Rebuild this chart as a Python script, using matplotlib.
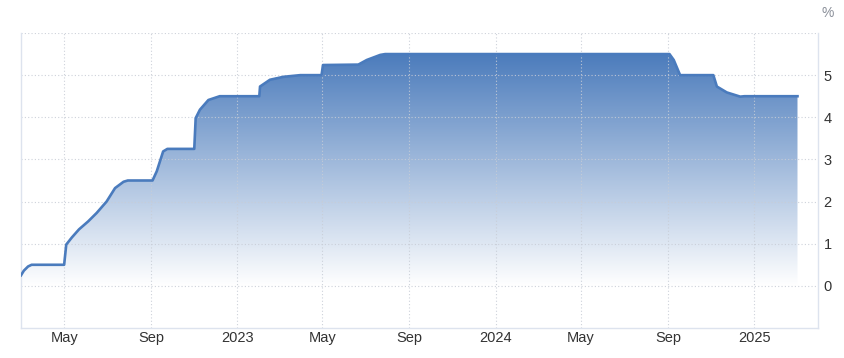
import matplotlib
matplotlib.use("Agg")
import matplotlib.pyplot as plt
import matplotlib.dates as mdates
import numpy as np
import pandas as pd
from matplotlib.patches import Polygon

dates = ["2022-03-01", "2022-03-05", "2022-03-11", "2022-03-16", "2022-05-01",
         "2022-05-04", "2022-05-12", "2022-05-22", "2022-06-04", "2022-06-16",
         "2022-06-30", "2022-07-12", "2022-07-24", "2022-07-30", "2022-09-03",
         "2022-09-09", "2022-09-18", "2022-09-24", "2022-11-01", "2022-11-03",
         "2022-11-09", "2022-11-21", "2022-12-07", "2023-02-01", "2023-02-02",
         "2023-02-16", "2023-03-07", "2023-03-31", "2023-04-30", "2023-05-02",
         "2023-06-21", "2023-07-03", "2023-07-22", "2023-07-29", "2024-09-03",
         "2024-09-09", "2024-09-18", "2024-11-04", "2024-11-09", "2024-11-23",
         "2024-12-12", "2024-12-18", "2025-03-03"]
values = [0.25, 0.36, 0.46, 0.50, 0.50,
          0.98, 1.15, 1.34, 1.53, 1.73,
          2.00, 2.32, 2.47, 2.50, 2.50,
          2.72, 3.19, 3.25, 3.25, 3.98,
          4.18, 4.41, 4.50, 4.50, 4.73,
          4.89, 4.96, 5.00, 5.00, 5.24,
          5.25, 5.36, 5.48, 5.50, 5.50,
          5.36, 5.00, 5.00, 4.73, 4.59,
          4.49, 4.50, 4.50]

tick_dates = ["2022-05-01", "2022-09-01", "2023-01-01", "2023-05-01", "2023-09-01",
              "2024-01-01", "2024-05-01", "2024-09-01", "2025-01-01"]
tick_labels = ["May", "Sep", "2023", "May", "Sep", "2024", "May", "Sep", "2025"]
y_ticks = [0, 1, 2, 3, 4, 5]

plt.rcParams['font.family'] = ['Liberation Sans', 'DejaVu Sans']

fig = plt.figure(figsize=(8.44, 3.58), dpi=100)
ax = fig.add_axes([21/844, 30/358, (818-21)/844, (328-33)/358])

x = mdates.date2num(pd.to_datetime(dates))
y = np.array(values)
xmin = mdates.date2num(pd.Timestamp("2022-03-01"))
xmax = mdates.date2num(pd.Timestamp("2025-04-01"))
ax.set_xlim(xmin, xmax)
ax.set_ylim(-1, 6)

# gradient fill
ymax = y.max()
grad = np.linspace(0, 1, 256).reshape(-1, 1)
top = np.array([76, 124, 188]) / 255.0
bottom = np.array([255, 255, 255]) / 255.0
cols = bottom + (top - bottom) * grad[..., None]
alpha = np.ones((256, 1, 1))
img = np.concatenate([cols, alpha], axis=2)
im = ax.imshow(img, aspect='auto', origin='lower',
               extent=[x[0], x[-1], 0, ymax], zorder=1, interpolation='bilinear')
verts = np.vstack([np.column_stack([x, y]), [[x[-1], 0], [x[0], 0]]])
poly = Polygon(verts, closed=True, facecolor='none', edgecolor='none')
ax.add_patch(poly)
im.set_clip_path(poly)

ax.plot(x, y, color='#4a7bbd', lw=1.9, zorder=3, solid_joinstyle='round')

# grid
for t in mdates.date2num(pd.to_datetime(tick_dates)):
    ax.axvline(t, color='#c8cdd6', lw=0.8, ls=(0, (1, 2)), zorder=2, alpha=0.9)
for v in range(0, 7):
    ax.axhline(v, color='#c8cdd6', lw=0.8, ls=(0, (1, 2)), zorder=2, alpha=0.9)

ax.spines['top'].set_visible(False)
for s in ['left', 'right', 'bottom']:
    ax.spines[s].set_color('#dde3ee')
    ax.spines[s].set_linewidth(1.0)

ax.set_xticks(mdates.date2num(pd.to_datetime(tick_dates)))
ax.set_xticklabels(tick_labels)
ax.yaxis.tick_right()
ax.set_yticks(y_ticks)
ax.set_yticklabels([str(v) for v in y_ticks])
ax.tick_params(axis='both', length=0, labelsize=10.5, colors='#333333')
ax.tick_params(axis='x', pad=2)
ax.tick_params(axis='y', pad=4)

fig.text(828/844, 1 - 13/358, "%", ha='center', va='center', fontsize=10, color='#8a8f99')

fig.savefig("out.png", dpi=100, facecolor='white')
